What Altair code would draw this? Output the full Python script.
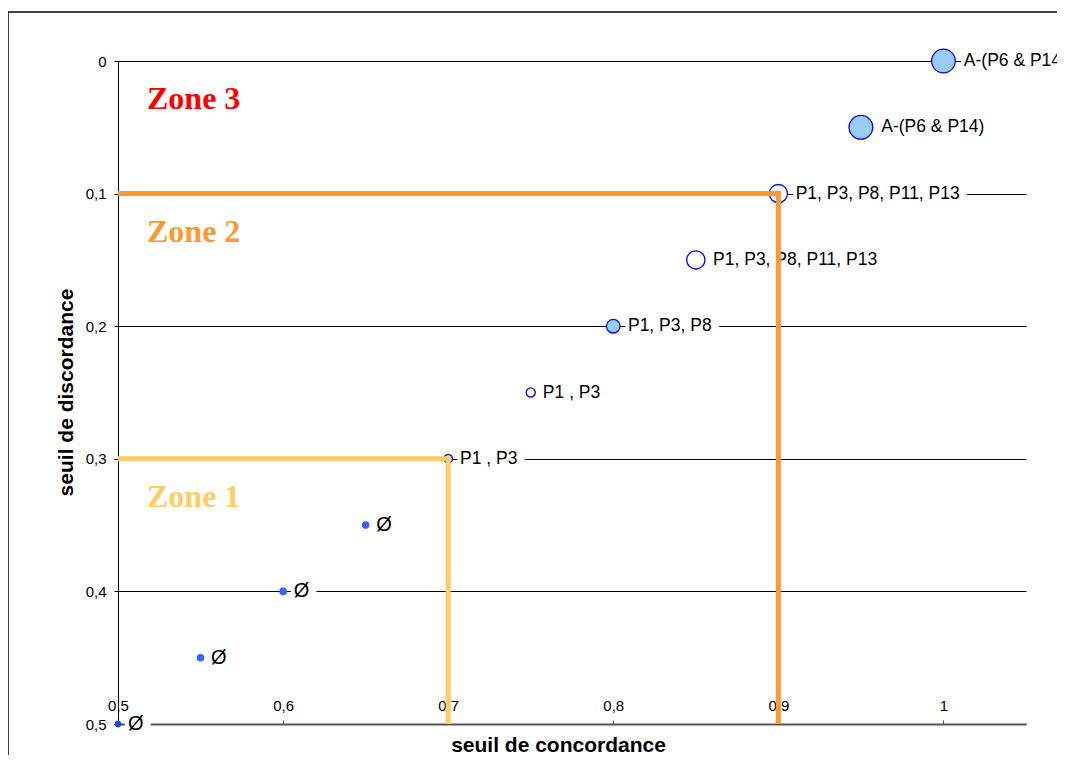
import math
import altair as alt
import pandas as pd

# ---- data ----
concordance = [0.5, 0.55, 0.6, 0.65, 0.7, 0.75, 0.8, 0.85, 0.9, 0.95, 1.0]
discordance = [0.5, 0.45, 0.4, 0.35, 0.3, 0.25, 0.2, 0.15, 0.1, 0.05, 0.0]
etiquettes = ["Ø", "Ø", "Ø", "Ø", "P1 , P3", "P1 , P3", "P1, P3, P8",
              "P1, P3, P8, P11, P13", "P1, P3, P8, P11, P13",
              "A-(P6 & P14)", "A-(P6 & P14)"]
bulles = [9, 12, 12, 12, 22, 25, 56, 100, 100, 169, 169]
types = ["fonce", "point", "point", "point", "creux", "creux", "plein",
         "creux", "creux", "plein", "plein"]

zone_noms = ["Zone 1", "Zone 2", "Zone 3"]
zone_couleurs = ["#FFCC66", "#FF9933", "#FF0000"]
zone_seuil_c = [0.5, 0.5, 0.5]
zone_seuil_d = [0.3, 0.1, 0.0]
zone1_x = [0.5, 0.7, 0.7]
zone1_y = [0.3, 0.3, 0.5]
zone2_x = [0.5, 0.9, 0.9]
zone2_y = [0.1, 0.1, 0.5]

x_ticks = [0.5, 0.6, 0.7, 0.8, 0.9, 1.0]
y_ticks = [0, 0.1, 0.2, 0.3, 0.4, 0.5]

pts = pd.DataFrame({"c": concordance, "d": discordance, "lab": etiquettes,
                    "bulle": bulles, "type": types})
zones = pd.DataFrame({"zone": zone_noms, "c": zone_seuil_c, "d": zone_seuil_d})
lignes = pd.DataFrame({
    "zone": ["Zone 1"] * 3 + ["Zone 2"] * 3,
    "ordre": [0, 1, 2, 0, 1, 2],
    "c": zone1_x + zone2_x,
    "d": zone1_y + zone2_y,
})

FONT = "Liberation Sans"
comma = "replace(format(datum.value, '.1~f'), '.', ',')"

xscale = alt.Scale(domain=[0.5, 1.05], nice=False, zero=False)
yscale = alt.Scale(domain=[0, 0.5], reverse=True, nice=False, zero=False)

X = alt.X("c:Q", scale=xscale, axis=alt.Axis(
    orient="top", offset=-663, values=x_ticks, labelExpr=comma,
    grid=False, tickSize=4, labelPadding=7, labelFontSize=15,
    labelFont=FONT, labelColor="black", domainColor="#555555",
    domainWidth=2, tickColor="#555555",
    title="seuil de concordance", titleX=440, titleY=21,
    titleBaseline="middle", titleAlign="center", titleFontSize=21,
    titleFont=FONT, titleFontWeight="bold", titleColor="black",
    labelOverlap=False, labelBound=False, labelFlush=False))
Y = alt.Y("d:Q", scale=yscale, axis=alt.Axis(
    orient="left", values=y_ticks, labelExpr=comma, grid=True,
    gridColor="black", gridWidth=1, tickSize=4, labelPadding=8,
    labelFontSize=15, labelFont=FONT, labelColor="black",
    domainColor="black", tickColor="black",
    title="seuil de discordance", titleX=-52, titleY=331,
    titleAngle=270, titleBaseline="middle", titleAlign="center",
    titleFontSize=21, titleFont=FONT, titleFontWeight="bold",
    titleColor="black", labelOverlap=False, labelBound=False,
    labelFlush=False))

type_dom = ["fonce", "point", "creux", "plein"]
fill_scale = alt.Scale(domain=type_dom,
                       range=["#2244DD", "#3366FF", "#FFFFFF", "#99CCFF"])
stroke_scale = alt.Scale(domain=type_dom,
                         range=["#2244DD", "#3366FF", "#0000FF", "#0000FF"])

# outer frame (decoration)
one = pd.DataFrame({"a": [0]})
frame_l = alt.Chart(one).mark_rule(color="black", strokeWidth=1.5).encode(
    x=alt.value(-110), y=alt.value(-49), y2=alt.value(702))
frame_t = alt.Chart(one).mark_rule(color="black", strokeWidth=1.5).encode(
    x=alt.value(-110), x2=alt.value(940), y=alt.value(-49))

points = alt.Chart(pts).mark_circle(opacity=1, strokeWidth=1.3).encode(
    x=X, y=Y,
    size=alt.Size("bulle:Q", scale=alt.Scale(domain=[0, 169], range=[0, 560]),
                  legend=None),
    fill=alt.Fill("type:N", scale=fill_scale, legend=None),
    stroke=alt.Stroke("type:N", scale=stroke_scale, legend=None),
)

label_layers = []
for b in sorted(set(bulles)):
    r = math.sqrt(b * 560 / 169 / math.pi)
    fs = 20 if b <= 12 else 17.5
    base = alt.Chart(pts).transform_filter(alt.datum.bulle == b)
    halo = base.mark_text(align="left", baseline="middle", dx=r + 9,
                          font=FONT, fontSize=fs, fill="white",
                          stroke="white", strokeWidth=12,
                          strokeJoin="miter").encode(
        x=X, y=Y, text="lab:N")
    txt = base.mark_text(align="left", baseline="middle", dx=r + 7,
                         font=FONT, fontSize=fs, color="black").encode(
        x=X, y=Y, text="lab:N")
    label_layers += [halo, txt]

zcol = alt.Scale(domain=zone_noms, range=zone_couleurs)
zone_lines = alt.Chart(lignes).mark_line(strokeWidth=5, strokeJoin="miter",
                                         strokeCap="butt").encode(
    x=X, y=Y, order="ordre:Q",
    color=alt.Color("zone:N", scale=zcol, legend=None))
zone_labels = alt.Chart(zones).mark_text(
    align="left", baseline="alphabetic", dx=29, dy=48,
    font="Liberation Serif", fontSize=32, fontWeight="bold").encode(
    x=X, y=Y, text="zone:N",
    color=alt.Color("zone:N", scale=zcol, legend=None))

chart = alt.layer(points, *label_layers, zone_lines, zone_labels,
                  frame_l, frame_t).properties(
    width=908, height=663,
    padding={"left": 110, "top": 53, "right": 31, "bottom": 31},
    autosize=alt.AutoSizeParams(type="none"),
).configure_view(stroke=None)

chart.save("out.html", embed_options={"renderer": "svg", "actions": False})
